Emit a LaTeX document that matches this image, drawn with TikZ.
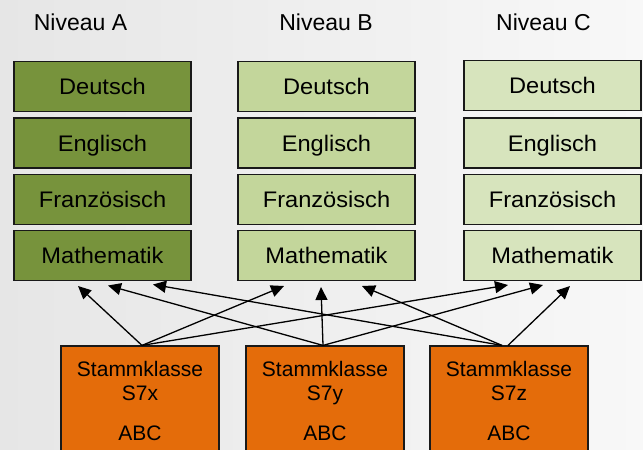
\documentclass[tikz,border=0pt]{standalone}
\usepackage{fontspec}
\setmainfont{Liberation Sans}
\newfontfamily\boxfont{Liberation Sans}[FakeStretch=1.05]
\usetikzlibrary{arrows.meta}
\definecolor{bgL}{HTML}{E6E6E6}
\definecolor{bgR}{HTML}{F8F8F8}
\definecolor{gA}{HTML}{77933C}
\definecolor{gB}{HTML}{C3D69B}
\definecolor{gC}{HTML}{D7E4BD}
\definecolor{klasseOrange}{HTML}{E46C0A}
\begin{document}
\begin{tikzpicture}[x=1pt,y=-1pt,
  subject/.style={draw=black!90, line width=1.2pt, minimum width=177pt,
    minimum height=50pt, inner sep=0pt,
    font=\boxfont\fontsize{22.5}{27}\selectfont, text height=16pt, text depth=0pt},
  klasse/.style={draw=black!90, line width=1.2pt, fill=klasseOrange,
    minimum width=158pt, minimum height=120pt, inner sep=0pt},
  ktext/.style={anchor=base, inner sep=0pt, font=\fontsize{21}{25}\selectfont},
  niveau/.style={anchor=base, inner sep=0pt, font=\fontsize{23}{28}\selectfont},
  arr/.style={line width=1.3pt, -{Triangle[length=13pt,width=12pt]}}
]
\useasboundingbox (0,0) rectangle (643,450);
\clip (0,0) rectangle (643,450);
\shade[left color=bgL, right color=bgR] (0,0) rectangle (643,450);

% level headings
\node[niveau] (nA) at (80.5,30) {Niveau A};
\node[niveau] (nB) at (326,30) {Niveau B};
\node[niveau] (nC) at (543.5,30) {Niveau C};

% level A
\node[subject, fill=gA] (dA) at (102.5,86.5)  {Deutsch};
\node[subject, fill=gA] (eA) at (102.5,143)   {Englisch};
\node[subject, fill=gA] (fA) at (102.5,199.5) {Französisch};
\node[subject, fill=gA] (mA) at (102.5,255.5) {Mathematik};
% level B
\node[subject, fill=gB] (dB) at (326.5,86.5)  {Deutsch};
\node[subject, fill=gB] (eB) at (326.5,143)   {Englisch};
\node[subject, fill=gB] (fB) at (326.5,199.5) {Französisch};
\node[subject, fill=gB] (mB) at (326.5,255.5) {Mathematik};
% level C
\node[subject, fill=gC] (dC) at (552.5,85.5)  {Deutsch};
\node[subject, fill=gC] (eC) at (552.5,143)   {Englisch};
\node[subject, fill=gC] (fC) at (552.5,199.5) {Französisch};
\node[subject, fill=gC] (mC) at (552.5,255.5) {Mathematik};

% home classes
\node[klasse] (sx) at (140,406) {};
\node[klasse] (sy) at (325,406) {};
\node[klasse] (sz) at (509,406) {};
\node[ktext] (sx1) at (140,376.7) {Stammklasse};
\node[ktext] (sx2) at (140,400)   {S7x};
\node[ktext] (sx3) at (140,440.7) {ABC};
\node[ktext] (sy1) at (325,376.7) {Stammklasse};
\node[ktext] (sy2) at (325,400)   {S7y};
\node[ktext] (sy3) at (325,440.7) {ABC};
\node[ktext] (sz1) at (509,376.7) {Stammklasse};
\node[ktext] (sz2) at (509,400)   {S7z};
\node[ktext] (sz3) at (509,440.7) {ABC};

% arrow start points on the class boxes
\coordinate (sxo)  at ([xshift=2pt]sx.north);
\coordinate (syo)  at ([xshift=-2pt]sy.north);
\coordinate (szo)  at ([xshift=-7pt]sz.north);
\coordinate (szo2) at ([xshift=-1pt]sz.north);
% arrow tips below the Mathematik boxes
\coordinate (tA1) at (78,286);
\coordinate (tA2) at (108,285.5);
\coordinate (tA3) at (153,284.5);
\coordinate (tB1) at (284,286);
\coordinate (tB2) at (321,287);
\coordinate (tB3) at (362,286);
\coordinate (tC1) at (508,285);
\coordinate (tC2) at (543,285);
\coordinate (tC3) at (570,286);

\draw[arr] (sxo) -- (tA1);
\draw[arr] (sxo) -- (tB1);
\draw[arr] (sxo) -- (tC1);
\draw[arr] (syo) -- (tA2);
\draw[arr] (syo) -- (tB2);
\draw[arr] (syo) -- (tC2);
\draw[arr] (szo) -- (tA3);
\draw[arr] (szo) -- (tB3);
\draw[arr] (szo2) -- (tC3);
\end{tikzpicture}
\end{document}
